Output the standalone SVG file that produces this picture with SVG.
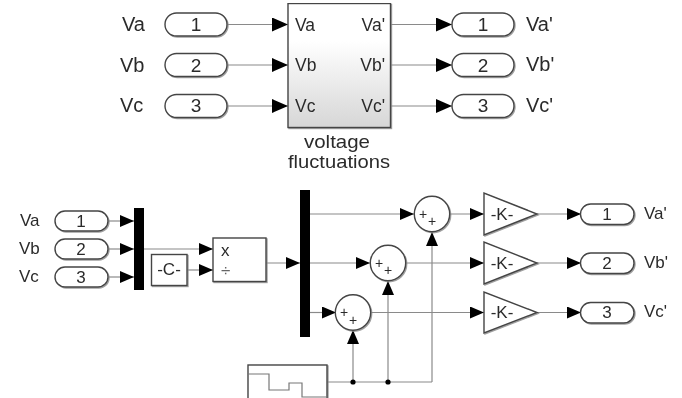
<svg xmlns="http://www.w3.org/2000/svg" width="682" height="398" viewBox="0 0 682 398">
<defs>
<linearGradient id="g" x1="0" y1="0" x2="0" y2="1"><stop offset="0.3" stop-color="#ffffff"/><stop offset="1" stop-color="#d6d6d6"/></linearGradient>
<filter id="s" x="-10%" y="-10%" width="125%" height="125%"><feDropShadow dx="1" dy="1" stdDeviation="0.6" flood-color="#888" flood-opacity="0.8"/></filter>
<filter id="soft" x="0" y="0" width="100%" height="100%"><feGaussianBlur stdDeviation="0.4"/></filter>
<marker id="a" markerUnits="userSpaceOnUse" markerWidth="18" markerHeight="15" refX="16" refY="7" orient="auto"><path d="M0 0L16 7L0 14Z" fill="#000"/></marker>
<marker id="n" markerUnits="userSpaceOnUse" markerWidth="15" markerHeight="13" refX="14" refY="6" orient="auto"><path d="M0 0L14 6L0 12Z" fill="#000"/></marker>
</defs>
<style>
text{font-family:"Liberation Sans",Arial,sans-serif;fill:#2b2b2b}
.l{font-size:20px}.t{font-size:19px}.m{font-size:17px}.i{font-size:17.500px}.o{font-size:14px}.c{text-anchor:middle}.e{text-anchor:end}
.w{fill:none;stroke:#8a8a8a;stroke-width:1.200}.a{marker-end:url(#a)}.s{marker-end:url(#n)}
.p{fill:#fff;stroke:#444;stroke-width:1.400;filter:url(#s)}
.bar{fill:#000}
.g{fill:#666}
</style>
<rect width="682" height="398" fill="#fff"/>
<g filter="url(#soft)">
<g id="connectors">
<path class="w a" d="M228 24.500H288"/><path class="w a" d="M228 65H288"/><path class="w a" d="M228 106H288"/>
<path class="w a" d="M391 24.500H452"/><path class="w a" d="M391 65H452"/><path class="w a" d="M391 106H452"/>
<path class="w s" d="M109 221H134"/><path class="w s" d="M109 249H134"/><path class="w s" d="M109 277H134"/>
<path class="w s" d="M144 249H213"/><path class="w s" d="M187 270H213"/>
<path class="w s" d="M266 263H300"/>
<path class="w s" d="M310 214H414"/><path class="w s" d="M310 263H370"/><path class="w s" d="M310 312.500H336"/>
<path class="w s" d="M450 214H484"/><path class="w s" d="M406 263H484"/><path class="w s" d="M371 312.500H484"/>
<path class="w s" d="M537 214H581"/><path class="w s" d="M537 263H581"/><path class="w s" d="M537 312.500H581"/>
<path class="w" d="M327 382H432"/>
<path class="w s" d="M353 382V330"/><path class="w s" d="M388 382V281"/><path class="w s" d="M432 382V232"/>
<circle cx="353" cy="382" r="2.600" fill="#000"/><circle cx="388" cy="382" r="2.600" fill="#000"/>
</g>
<g id="in1"><text class="l" x="122" y="31">Va</text><rect class="p" x="165" y="13" width="62" height="23" rx="11.500"/><text class="t c" x="196" y="31">1</text></g>
<g id="in2"><text class="l" x="120" y="72">Vb</text><rect class="p" x="165" y="53.500" width="62" height="23" rx="11.500"/><text class="t c" x="196" y="72">2</text></g>
<g id="in3"><text class="l" x="120" y="112">Vc</text><rect class="p" x="165" y="94.500" width="62" height="23" rx="11.500"/><text class="t c" x="196" y="112">3</text></g>
<g id="fluct">
<rect x="288" y="3.500" width="102.500" height="124" fill="url(#g)" stroke="#444" stroke-width="1.400" filter="url(#s)"/>
<text class="i" x="295" y="31">Va</text><text class="i" x="295" y="71">Vb</text><text class="i" x="295" y="112">Vc</text>
<text class="i e" x="385" y="31">Va'</text><text class="i e" x="385" y="71">Vb'</text><text class="i e" x="385" y="112">Vc'</text>
<text class="t c" x="337" y="148" textLength="66" lengthAdjust="spacingAndGlyphs">voltage</text><text class="t c" x="339" y="168" textLength="102" lengthAdjust="spacingAndGlyphs">fluctuations</text>
</g>
<g id="out1"><rect class="p" x="452" y="13" width="62" height="23" rx="11.500"/><text class="t c" x="483" y="31">1</text><text class="l" x="526" y="31">Va'</text></g>
<g id="out2"><rect class="p" x="452" y="53.500" width="62" height="23" rx="11.500"/><text class="t c" x="483" y="72">2</text><text class="l" x="526" y="71">Vb'</text></g>
<g id="out3"><rect class="p" x="452" y="94.500" width="62" height="23" rx="11.500"/><text class="t c" x="483" y="112">3</text><text class="l" x="526" y="112">Vc'</text></g>
<g id="lin1"><text class="m" x="20" y="226">Va</text><rect class="p" x="55" y="211" width="53" height="20" rx="10"/><text class="m c" x="81" y="227">1</text></g>
<g id="lin2"><text class="m" x="19" y="254">Vb</text><rect class="p" x="55" y="239" width="53" height="20" rx="10"/><text class="m c" x="81" y="255">2</text></g>
<g id="lin3"><text class="m" x="19" y="282">Vc</text><rect class="p" x="55" y="267" width="53" height="20" rx="10"/><text class="m c" x="81" y="283">3</text></g>
<g id="mux"><rect class="bar" x="134" y="208" width="10" height="82"/></g>
<g id="const"><rect class="p" x="151.500" y="254.500" width="35.500" height="31"/><text class="m c" x="169" y="275">-C-</text></g>
<g id="divide"><rect class="p" x="213" y="238" width="53" height="43.500"/><text class="m" x="221" y="256">x</text><text class="m g" x="221" y="276">÷</text></g>
<g id="demux"><rect class="bar" x="300" y="190" width="10" height="147"/></g>
<g id="sum1"><circle class="p" cx="432" cy="214" r="17.700"/><text class="o c" x="423" y="219">+</text><text class="o c" x="432" y="226">+</text></g>
<g id="sum2"><circle class="p" cx="388" cy="263" r="17.700"/><text class="o c" x="379" y="268">+</text><text class="o c" x="388" y="275">+</text></g>
<g id="sum3"><circle class="p" cx="353" cy="312.500" r="17.700"/><text class="o c" x="344" y="317">+</text><text class="o c" x="353" y="325">+</text></g>
<g id="gain1"><path class="p" d="M484 193V235L537 214Z"/><text class="m c" x="502" y="220">-K-</text></g>
<g id="gain2"><path class="p" d="M484 242V284L537 263Z"/><text class="m c" x="502" y="269">-K-</text></g>
<g id="gain3"><path class="p" d="M484 292V333L537 312.500Z"/><text class="m c" x="502" y="318">-K-</text></g>
<g id="lout1"><rect class="p" x="580.500" y="204" width="53.500" height="20.500" rx="10.200"/><text class="m c" x="607" y="220">1</text><text class="m" x="644" y="219">Va'</text></g>
<g id="lout2"><rect class="p" x="580.500" y="253" width="53.500" height="20.500" rx="10.200"/><text class="m c" x="607" y="269">2</text><text class="m" x="644" y="268">Vb'</text></g>
<g id="lout3"><rect class="p" x="580.500" y="302.500" width="53.500" height="20.500" rx="10.200"/><text class="m c" x="607" y="318">3</text><text class="m" x="644" y="317">Vc'</text></g>
<g id="source"><rect class="p" x="248" y="365" width="79" height="40"/><path d="M248 374H269V390H289V383H302V397H327" fill="none" stroke="#777" stroke-width="1.200"/></g>
</g>
</svg>
